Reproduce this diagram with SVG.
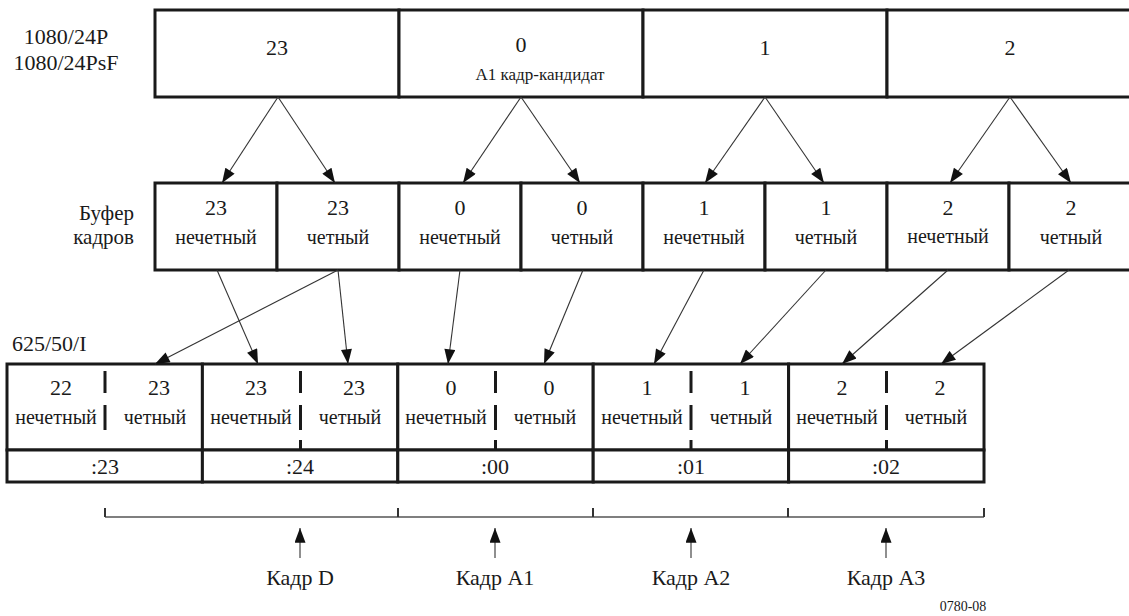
<svg xmlns="http://www.w3.org/2000/svg" width="1129" height="616" viewBox="0 0 1129 616" font-family="'Liberation Serif', 'Times New Roman', 'DejaVu Serif', serif">
  <style>
    text { font-family: 'Liberation Serif', 'Times New Roman', 'DejaVu Serif', serif; fill: #1a1a1a; }
    .box { fill: #ffffff; stroke: #1a1a1a; stroke-width: 3; }
    .half { stroke: #1a1a1a; stroke-width: 3; fill: none; }
    .num { font-size: 22px; text-anchor: middle; }
    .word { font-size: 20px; text-anchor: middle; }
    .lbl { font-size: 22px; }
    .conn { stroke: #333333; stroke-width: 1.1; fill: none; marker-end: url(#ah); }
    .brk { stroke: #555555; stroke-width: 1.6; fill: none; }
    .tick { stroke: #333333; stroke-width: 2; fill: none; }
  </style>
  <defs>
    <marker id="ah" viewBox="0 0 16 12" refX="16" refY="6" markerWidth="16" markerHeight="11" markerUnits="userSpaceOnUse" orient="auto">
      <path d="M0,0 L16,6 L0,12 Z" fill="#111111"/>
    </marker>
  </defs>

  <rect width="1129" height="616" fill="#ffffff"/>

  <!-- row labels -->
  <g id="label-1080">
    <text class="lbl" x="66" y="44" text-anchor="middle">1080/24P</text>
    <text class="lbl" x="66" y="70" text-anchor="middle">1080/24PsF</text>
  </g>
  <g id="label-buffer">
    <text x="134" y="220" font-size="21" text-anchor="end">Буфер</text>
    <text x="134" y="244" font-size="21" text-anchor="end">кадров</text>
  </g>
  <g id="label-625">
    <text class="lbl" x="12" y="351">625/50/I</text>
  </g>

  <!-- progressive source frames -->
  <g id="src-23">
    <rect class="box" x="155" y="10" width="244" height="87"/>
    <text class="num" x="277" y="55">23</text>
  </g>
  <g id="src-0">
    <rect class="box" x="399" y="10" width="244" height="87"/>
    <text class="num" x="521" y="52">0</text>
    <text x="540" y="80" font-size="17" text-anchor="middle">A1 кадр-кандидат</text>
  </g>
  <g id="src-1">
    <rect class="box" x="643" y="10" width="244" height="87"/>
    <text class="num" x="765" y="55">1</text>
  </g>
  <g id="src-2">
    <rect class="box" x="887" y="10" width="260" height="87"/>
    <text class="num" x="1010" y="55">2</text>
  </g>

  <!-- frame buffer fields -->
  <g id="buf-23o">
    <rect class="box" x="155" y="183" width="122" height="87"/>
    <text class="num" x="216" y="215">23</text>
    <text class="word" x="216" y="244">нечетный</text>
  </g>
  <g id="buf-23e">
    <rect class="box" x="277" y="183" width="122" height="87"/>
    <text class="num" x="338" y="215">23</text>
    <text class="word" x="338" y="244">четный</text>
  </g>
  <g id="buf-0o">
    <rect class="box" x="399" y="183" width="122" height="87"/>
    <text class="num" x="460" y="215">0</text>
    <text class="word" x="460" y="244">нечетный</text>
  </g>
  <g id="buf-0e">
    <rect class="box" x="521" y="183" width="122" height="87"/>
    <text class="num" x="582" y="215">0</text>
    <text class="word" x="582" y="244">четный</text>
  </g>
  <g id="buf-1o">
    <rect class="box" x="643" y="183" width="122" height="87"/>
    <text class="num" x="704" y="215">1</text>
    <text class="word" x="704" y="244">нечетный</text>
  </g>
  <g id="buf-1e">
    <rect class="box" x="765" y="183" width="122" height="87"/>
    <text class="num" x="826" y="215">1</text>
    <text class="word" x="826" y="244">четный</text>
  </g>
  <g id="buf-2o">
    <rect class="box" x="887" y="183" width="122" height="87"/>
    <text class="num" x="948" y="215">2</text>
    <text class="word" x="948" y="243">нечетный</text>
  </g>
  <g id="buf-2e">
    <rect class="box" x="1009" y="183" width="140" height="87"/>
    <text class="num" x="1071" y="215">2</text>
    <text class="word" x="1071" y="244">четный</text>
  </g>

  <!-- interlaced output frames -->
  <g id="out-23">
    <rect class="box" x="7" y="364" width="195.4" height="86"/>
    <rect class="box" x="7" y="450" width="195.4" height="32"/>
    <path class="half" d="M105,371 V393 M105,405 V430"/>
    <text class="num" x="61" y="395">22</text>
    <text class="num" x="159" y="395">23</text>
    <text class="word" x="56" y="424">нечетный</text>
    <text class="word" x="155" y="424">четный</text>
    <text class="num" x="105" y="474">:23</text>
  </g>
  <g id="out-24">
    <rect class="box" x="202.4" y="364" width="195.4" height="86"/>
    <rect class="box" x="202.4" y="450" width="195.4" height="32"/>
    <path class="half" d="M300.5,371 V393 M300.5,405 V430 M300.5,440 V450"/>
    <text class="num" x="256" y="395">23</text>
    <text class="num" x="354" y="395">23</text>
    <text class="word" x="251" y="424">нечетный</text>
    <text class="word" x="350" y="424">четный</text>
    <text class="num" x="300" y="474">:24</text>
  </g>
  <g id="out-00">
    <rect class="box" x="397.8" y="364" width="195.4" height="86"/>
    <rect class="box" x="397.8" y="450" width="195.4" height="32"/>
    <path class="half" d="M495.5,371 V393 M495.5,405 V430 M495.5,440 V450"/>
    <text class="num" x="451" y="395">0</text>
    <text class="num" x="549" y="395">0</text>
    <text class="word" x="446" y="424">нечетный</text>
    <text class="word" x="545" y="424">четный</text>
    <text class="num" x="495" y="474">:00</text>
  </g>
  <g id="out-01">
    <rect class="box" x="593.2" y="364" width="195.4" height="86"/>
    <rect class="box" x="593.2" y="450" width="195.4" height="32"/>
    <path class="half" d="M691,371 V393 M691,405 V430 M691,440 V450"/>
    <text class="num" x="647" y="395">1</text>
    <text class="num" x="745" y="395">1</text>
    <text class="word" x="642" y="424">нечетный</text>
    <text class="word" x="741" y="424">четный</text>
    <text class="num" x="691" y="474">:01</text>
  </g>
  <g id="out-02">
    <rect class="box" x="788.6" y="364" width="195.4" height="86"/>
    <rect class="box" x="788.6" y="450" width="195.4" height="32"/>
    <path class="half" d="M886.5,371 V393 M886.5,405 V430 M886.5,440 V450"/>
    <text class="num" x="842" y="395">2</text>
    <text class="num" x="940" y="395">2</text>
    <text class="word" x="837" y="424">нечетный</text>
    <text class="word" x="936" y="424">четный</text>
    <text class="num" x="886" y="474">:02</text>
  </g>

  <!-- frame grouping bracket and labels -->
  <g id="bracket">
    <path class="brk" d="M105,517 H984"/>
    <path class="tick" d="M105,508 V517 M398,508 V517 M593,508 V517 M788,508 V517 M984,508 V517"/>
  </g>
  <g id="frame-D">
    <text class="lbl" x="300" y="585" text-anchor="middle">Кадр D</text>
  </g>
  <g id="frame-A1">
    <text class="lbl" x="495" y="585" text-anchor="middle">Кадр A1</text>
  </g>
  <g id="frame-A2">
    <text class="lbl" x="691" y="585" text-anchor="middle">Кадр A2</text>
  </g>
  <g id="frame-A3">
    <text class="lbl" x="886" y="585" text-anchor="middle">Кадр A3</text>
  </g>
  <g id="figure-id">
    <text x="963" y="611" font-size="14" text-anchor="middle">0780-08</text>
  </g>

  <!-- connectors -->
  <g id="connectors">
    <!-- progressive frame split into fields -->
    <path class="conn" d="M278,97 L222,183"/>
    <path class="conn" d="M278,97 L335,183"/>
    <path class="conn" d="M521,97 L463,183"/>
    <path class="conn" d="M521,97 L580,183"/>
    <path class="conn" d="M765,97 L705,183"/>
    <path class="conn" d="M765,97 L824,183"/>
    <path class="conn" d="M1010,97 L950,183"/>
    <path class="conn" d="M1010,97 L1071,183"/>
    <!-- fields placed into interlaced frames -->
    <path class="conn" d="M217,270 L258,364"/>
    <path class="conn" d="M338,270 L155,364"/>
    <path class="conn" d="M338,270 L348,364"/>
    <path class="conn" d="M460,270 L448,364"/>
    <path class="conn" d="M583,270 L544,364"/>
    <path class="conn" d="M704,270 L654,364"/>
    <path class="conn" d="M826,270 L740,364"/>
    <path class="conn" d="M948,270 L842,364"/>
    <path class="conn" d="M1069,270 L941,364"/>
    <!-- frame pointers -->
    <path class="conn" d="M300,558 L300,528"/>
    <path class="conn" d="M495,558 L495,528"/>
    <path class="conn" d="M691,558 L691,528"/>
    <path class="conn" d="M886,558 L886,528"/>
  </g>
</svg>
